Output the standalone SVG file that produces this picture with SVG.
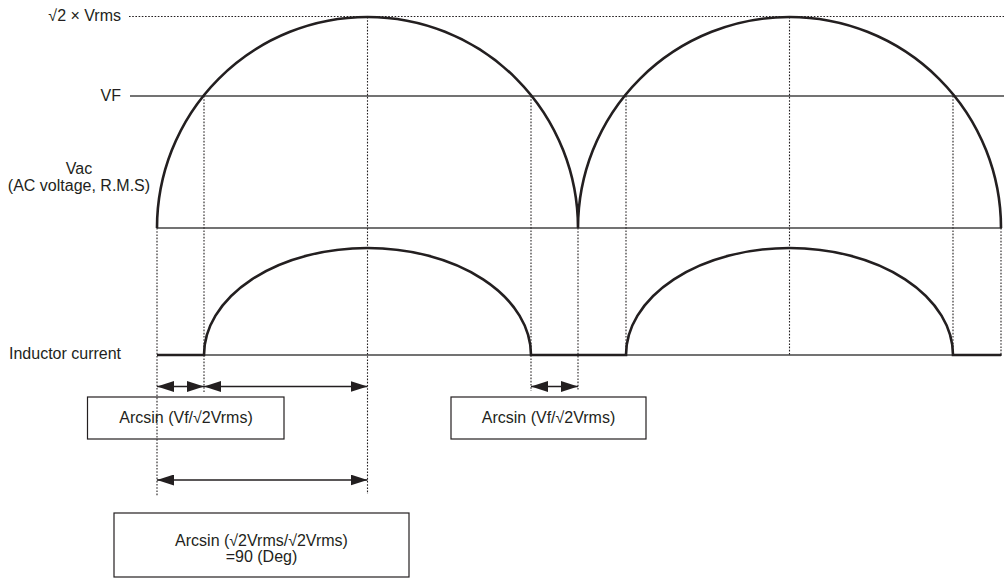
<svg xmlns="http://www.w3.org/2000/svg" width="1004" height="579" viewBox="0 0 1004 579">
<style>
  text { font-family: "Liberation Sans", Arial, sans-serif; font-size: 16px; fill: #231f20; }
  .mid { text-anchor: middle; }
  .end { text-anchor: end; }
  .thin { stroke: #444; stroke-width: 1.3; fill: none; }
  .wave { stroke: #231f20; stroke-width: 2.6; fill: none; }
  .dot { stroke: #231f20; stroke-width: 1.1; stroke-dasharray: 1.6 1.6; fill: none; }
  .box { fill: none; stroke: #231f20; stroke-width: 1.2; }
  .arr { stroke: #231f20; stroke-width: 1.5; fill: none; marker-start: url(#ah); marker-end: url(#ah); }
</style>
<defs>
  <marker id="ah" viewBox="0 0 17 11" refX="17" refY="5.5" markerWidth="17" markerHeight="11" markerUnits="userSpaceOnUse" orient="auto-start-reverse">
    <path d="M0,0 L17,5.5 L0,11 z" fill="#231f20"/>
  </marker>
</defs>
<rect width="1004" height="579" fill="#fff"/>

<g id="levels">
  <line class="dot" x1="129" y1="16.5" x2="1004" y2="16.5"/>
  <line class="thin" x1="130" y1="96" x2="1004" y2="96"/>
  <line class="thin" x1="157" y1="228" x2="1002" y2="228"/>
  <line class="thin" x1="157" y1="355" x2="1002" y2="355"/>
</g>

<g id="labels">
  <text class="end" x="121" y="21">√2 × Vrms</text>
  <text class="end" x="121" y="101">VF</text>
  <text class="mid" x="79" y="174">Vac</text>
  <text class="mid" x="79" y="191">(AC voltage, R.M.S)</text>
  <text x="9" y="359">Inductor current</text>
</g>

<g id="connectors">
  <line class="dot" x1="157" y1="228" x2="157" y2="496"/>
  <line class="dot" x1="204" y1="96" x2="204" y2="392"/>
  <line class="dot" x1="367.5" y1="17" x2="367.5" y2="494"/>
  <line class="dot" x1="531" y1="96" x2="531" y2="391"/>
  <line class="dot" x1="578" y1="228" x2="578" y2="391"/>
  <line class="dot" x1="626" y1="96" x2="626" y2="355"/>
  <line class="dot" x1="789.5" y1="17" x2="789.5" y2="355"/>
  <line class="dot" x1="953" y1="96" x2="953" y2="355"/>
  <line class="dot" x1="1001" y1="228" x2="1001" y2="355"/>
  <line class="arr" x1="157" y1="386.5" x2="204" y2="386.5"/>
  <line class="arr" x1="204" y1="386.5" x2="367.5" y2="386.5"/>
  <line class="arr" x1="531" y1="386.5" x2="578" y2="386.5"/>
  <line class="arr" x1="157" y1="480" x2="367.5" y2="480"/>
</g>

<g id="vac">
  <path class="wave" d="M157,228 A210.5,211 0 0 1 578,228 A211.5,211 0 0 1 1001,228"/>
</g>

<g id="current">
  <path class="wave" d="M157,355 H204 A163.5,107 0 0 1 531,355 H626 A163.5,107 0 0 1 953,355 H1001"/>
</g>

<g id="box1">
  <rect class="box" x="87.5" y="397" width="196.5" height="42"/>
  <text class="mid" x="186" y="423">Arcsin (Vf/√2Vrms)</text>
</g>
<g id="box2">
  <rect class="box" x="451" y="397" width="195" height="42"/>
  <text class="mid" x="548.5" y="423">Arcsin (Vf/√2Vrms)</text>
</g>
<g id="box3">
  <rect class="box" x="114" y="513" width="295" height="64"/>
  <text class="mid" x="261.5" y="546">Arcsin (√2Vrms/√2Vrms)</text>
  <text class="mid" x="261.5" y="562">=90 (Deg)</text>
</g>
</svg>
